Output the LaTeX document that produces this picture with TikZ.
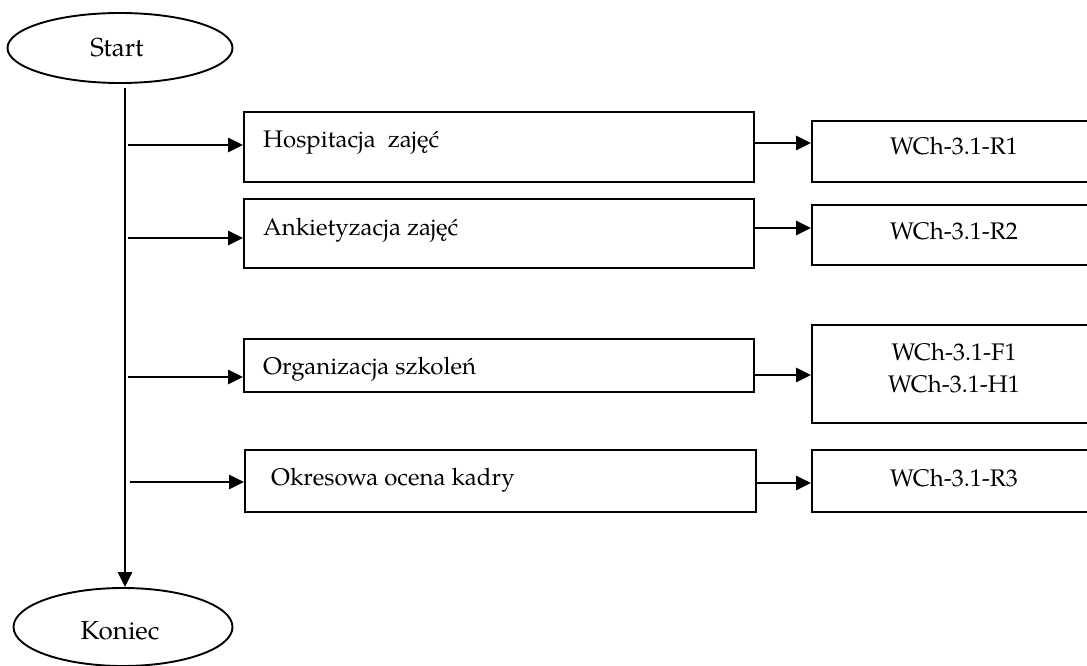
\documentclass[tikz,border=0pt]{standalone}
\usepackage{fontspec}
\setmainfont{TeX Gyre Pagella}
\usetikzlibrary{shapes.geometric,arrows.meta}
\begin{document}
\begin{tikzpicture}[x=1pt,y=1pt,
  every node/.style={font=\fontsize{24}{28}\selectfont},
  box/.style={draw, line width=1.9pt, rectangle, inner sep=0pt, anchor=north west},
  oval/.style={draw, line width=1.9pt, ellipse, inner sep=0pt},
  txt/.style={inner sep=0pt, anchor=base west},
  ctxt/.style={inner sep=0pt, anchor=base},
  otxt/.style={inner sep=0pt, anchor=base, font=\fontsize{26}{30}\selectfont},
  arr/.style={line width=2.6pt, -{Triangle[length=15pt,width=14pt]}}]
\useasboundingbox (0,0) rectangle (1087,-666);
\clip (0,0) rectangle (1087,-666);
% ovals
\node[oval, minimum width=225, minimum height=70] (start) at (120,-48) {};
\node[otxt] (starttxt) at (117,-57) {Start};
\node[oval, minimum width=219, minimum height=78] (koniec) at (123,-627) {};
\node[otxt] (koniectxt) at (120,-639) {Koniec};
% left boxes
\node[box, minimum width=510, minimum height=70] (hosp) at (243,-111) {};
\node[box, minimum width=510, minimum height=69] (ank) at (243,-198) {};
\node[box, minimum width=510, minimum height=53] (org) at (243,-338) {};
\node[box, minimum width=511, minimum height=62] (okr) at (244,-449) {};
\node[txt] (hosptxt) at (263,-147) {Hospitacja\ \ zajęć};
\node[txt] (anktxt) at (263,-235) {Ankietyzacja zajęć};
\node[txt] (orgtxt) at (263,-374) {Organizacja szkoleń};
\node[txt] (okrtxt) at (271,-485) {Okresowa ocena kadry};
% right boxes
\node[box, minimum width=290, minimum height=61] (r1) at (811,-120) {};
\node[box, minimum width=290, minimum height=60] (r2) at (811,-204) {};
\node[box, minimum width=290, minimum height=98] (rf) at (811,-324) {};
\node[box, minimum width=290, minimum height=62] (r3) at (811,-449) {};
\node[ctxt] (r1txt) at (954,-155) {WCh-3.1-R1};
\node[ctxt] (r2txt) at (954,-239) {WCh-3.1-R2};
\node[ctxt] (f1txt) at (954,-360) {WCh-3.1-F1};
\node[ctxt] (h1txt) at (954,-392) {WCh-3.1-H1};
\node[ctxt] (r3txt) at (954,-486) {WCh-3.1-R3};
% trunk
\coordinate (top) at (125,-88);
\draw[arr] (top) -- (top |- koniec.north);
% branch arrows
\coordinate (a1) at (128,-145);
\coordinate (a2) at (128,-238);
\coordinate (a3) at (128,-377);
\coordinate (a4) at (130,-482);
\draw[arr] (a1) -- (a1 -| hosp.west);
\draw[arr] (a2) -- (a2 -| ank.west);
\draw[arr] (a3) -- (a3 -| org.west);
\draw[arr] (a4) -- (a4 -| okr.west);
% right arrows
\coordinate (b1) at (753,-143);
\coordinate (b2) at (753,-228);
\coordinate (b3) at (753,-375);
\coordinate (b4) at (755,-483);
\draw[arr] (b1) -- (b1 -| r1.west);
\draw[arr] (b2) -- (b2 -| r2.west);
\draw[arr] (b3) -- (b3 -| rf.west);
\draw[arr] (b4) -- (b4 -| r3.west);
\end{tikzpicture}
\end{document}
